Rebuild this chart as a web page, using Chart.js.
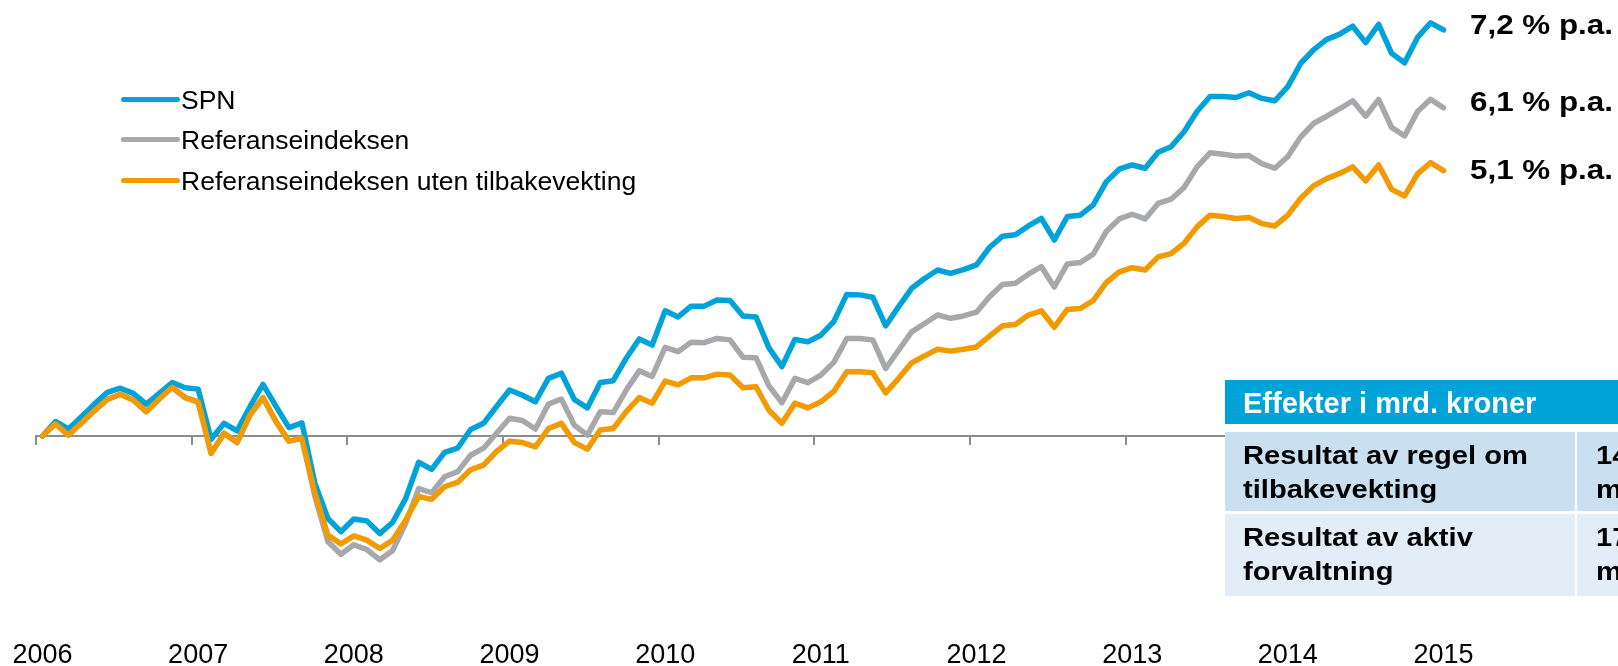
<!DOCTYPE html>
<html>
<head>
<meta charset="utf-8">
<script src="https://cdn.jsdelivr.net/npm/chart.js@4.4.1/dist/chart.umd.min.js"></script>
<style>
html,body{margin:0;padding:0;background:#fff;overflow:hidden;}
#wrap{position:relative;width:1618px;height:666px;overflow:hidden;font-family:"Liberation Sans",Arial,sans-serif;color:#000;}
#chart{position:absolute;left:0;top:0;}
.t{position:absolute;white-space:nowrap;line-height:1;}
.leg{font-size:26.5px;left:181px;}
.sw{position:absolute;left:121px;width:59px;height:5px;border-radius:3px;}
.pa{font-size:28px;font-weight:bold;left:1470px;transform:scaleX(1.12);transform-origin:0 0;}
.cell{position:absolute;}
.hdr{font-size:29px;font-weight:bold;color:#fff;}
.rt{position:absolute;white-space:nowrap;font-size:26px;font-weight:bold;line-height:34px;transform:scaleX(1.12);transform-origin:0 0;}
</style>
</head>
<body>
<div id="wrap">
  <canvas id="chart" width="1618" height="666"></canvas>
  <div id="overlay"></div>
</div>
<script>
// ---- data ----
const years = ['2006','2007','2008','2009','2010','2011','2012','2013','2014','2015'];
const seriesNames = ['SPN', 'Referanseindeksen', 'Referanseindeksen uten tilbakevekting'];
const annualReturns = ['7,2 % p.a.', '6,1 % p.a.', '5,1 % p.a.'];

// cumulative return (%) from Jan 2006, monthly
const spnValues = [0, 3.1, 1.5, 4.1, 6.8, 9.3, 10.2, 9.1, 6.8, 9.1, 11.4, 10.3, 10.0,
  -0.7, 2.7, 1.1, 6.3, 11.0, 6.3, 1.8, 2.8,
  -10.1, -17.6, -20.4, -17.7, -18.1, -20.8, -18.4, -13.3, -5.6, -7.1, -3.5, -2.6, 1.4, 2.7, 6.3, 9.8, 8.7,
  7.3, 12.3, 13.4, 7.8, 6.0, 11.4, 11.8, 16.6, 20.7, 19.4, 26.7, 25.4, 27.7, 27.7, 29.0, 28.9, 25.6, 25.4,
  18.8, 14.8, 20.6, 20.1, 21.5, 24.4, 30.2, 30.1, 29.6, 23.5, 27.6, 31.5, 33.6, 35.4, 34.7, 35.5, 36.5,
  40.2, 42.6, 42.9, 44.8, 46.4, 41.8, 46.8, 47.1, 49.3, 54.2, 56.9, 57.8, 57.1, 60.5, 61.7, 64.9, 69.2,
  72.4, 72.4, 72.2, 73.2, 72.0, 71.5, 74.5, 79.5, 82.4, 84.6, 85.7, 87.4, 83.9, 87.8, 81.6, 79.6, 85.0, 88.1, 86.6];

const refValues = [0, 2.6, 0.2, 2.8, 5.4, 7.8, 8.9, 7.7, 5.2, 7.9, 10.4, 8.2, 7.3,
  -3.7, 0.6, -1.4, 4.5, 8.2, 3.1, -1.1, -0.5,
  -12.9, -22.5, -25.2, -23.2, -24.2, -26.4, -24.4, -18.6, -11.2, -12.1, -8.7, -7.6, -4.1, -2.6, 0.6,
  3.8, 3.3, 1.5, 6.8, 7.9, 2.3, 0.2, 5.2, 5.0, 9.8, 13.9, 12.7, 18.9, 18.0, 20.0, 19.9, 20.8, 20.5, 16.8, 16.7,
  10.7, 7.1, 12.3, 11.4, 13.0, 15.7, 20.8, 20.8, 20.5, 14.4, 18.3, 22.2, 24.0, 25.8, 25.1, 25.6, 26.4,
  29.7, 32.3, 32.6, 34.5, 36.1, 31.8, 36.7, 37.0, 38.8, 43.6, 46.3, 47.3, 46.3, 49.6, 50.5, 53.0, 57.4,
  60.4, 60.1, 59.7, 59.8, 58.1, 57.1, 59.6, 63.8, 66.7, 68.2, 69.8, 71.5, 68.2, 71.8, 65.8, 64.0, 69.2, 71.8, 70.0];

const refUtenValues = [0, 2.6, 0.2, 2.8, 5.4, 7.8, 8.9, 7.7, 5.2, 7.9, 10.4, 8.2, 7.3,
  -3.7, 0.6, -1.4, 4.5, 8.2, 3.1, -1.1, -0.5,
  -12.2, -21.1, -23.0, -21.3, -22.2, -24.0, -22.2, -17.9, -12.9, -13.5, -10.8, -9.9, -7.2, -6.2, -3.3, -1.1, -1.4,
  -2.3, 1.6, 2.7, -1.4, -2.8, 1.3, 1.6, 5.2, 8.2, 7.0, 11.7, 10.9, 12.4, 12.4, 13.2, 13.0, 10.3, 10.5,
  5.5, 2.7, 7.0, 6.0, 7.3, 9.5, 13.7, 13.7, 13.5, 9.2, 12.3, 15.6, 17.1, 18.5, 18.1, 18.5, 19.0,
  21.3, 23.5, 23.8, 25.8, 26.7, 23.2, 27.0, 27.2, 28.9, 32.7, 35.0, 35.9, 35.4, 38.2, 38.9, 41.1, 44.6,
  47.1, 46.8, 46.4, 46.6, 45.3, 44.8, 47.1, 50.7, 53.4, 54.9, 56.0, 57.4, 54.4, 57.8, 52.6, 51.2, 55.9, 58.3, 56.6];

const tableHeader = 'Effekter i mrd. kroner';
const tableRows = [
  ['Resultat av regel om', 'tilbakevekting', '14', 'mrd.'],
  ['Resultat av aktiv', 'forvaltning', '17', 'mrd.']
];

// ---- styling ----
const colors = ['#00a3d9', '#a7a8ab', '#f29a00'];
const axisGray = '#8c8c8c';

// month categories
const categories = [];
for (let i = 0; i < spnValues.length; i++) {
  categories.push(years[0] * 1 + Math.floor(i / 12) + '-' + String(i % 12 + 1).padStart(2, '0'));
}

Chart.defaults.font.family = '"Liberation Sans", Arial, sans-serif';

new Chart(document.getElementById('chart'), {
  type: 'line',
  data: {
    labels: categories,
    datasets: [
      { label: seriesNames[0], data: spnValues, borderColor: colors[0], order: 1 },
      { label: seriesNames[1], data: refValues, borderColor: colors[1], order: 2 },
      { label: seriesNames[2], data: refUtenValues, borderColor: colors[2], order: 0 }
    ]
  },
  options: {
    responsive: false,
    animation: false,
    devicePixelRatio: 1,
    layout: { padding: { left: 36, right: 168, top: 14, bottom: 0 } },
    elements: {
      point: { radius: 0, hoverRadius: 0 },
      line: { borderWidth: 5.5, tension: 0, borderJoinStyle: 'round', borderCapStyle: 'round', fill: false }
    },
    plugins: { legend: { display: false }, tooltip: { enabled: false } },
    scales: {
      x: {
        type: 'category',
        position: 'bottom',
        offset: true,
        grid: { display: false, drawTicks: true, tickLength: 25 },
        border: { display: false },
        ticks: {
          autoSkip: false, maxRotation: 0, minRotation: 0, padding: 0,
          color: '#000', font: { size: 27 },
          callback: (v, i) => (i % 12 === 0 ? years[i / 12] : '')
        },
        afterFit: s => { s.height = 51.8; }
      },
      x0: {
        type: 'category',
        axis: 'x',
        position: { y: 0 },
        offset: true,
        grid: {
          display: true, drawOnChartArea: false, drawTicks: true, tickLength: 8, offset: true,
          color: c => (c.index !== undefined && c.index % 12 === 0 ? axisGray : 'rgba(0,0,0,0)'),
          tickColor: c => (c.index !== undefined && c.index % 12 === 0 ? axisGray : 'rgba(0,0,0,0)'),
          tickWidth: 2, lineWidth: 2
        },
        border: { display: true, color: axisGray, width: 2 },
        ticks: { display: false }
      },
      y: { display: false, min: -38, max: 90 }
    }
  }
});

// ---- overlay: legend, annual returns, table ----
const ov = document.getElementById('overlay');
function add(html) { ov.insertAdjacentHTML('beforeend', html); }

const legY = [99, 139.5, 180];
const legTop = [86.5, 127, 167.5];
seriesNames.forEach((n, i) => {
  add(`<div class="sw" style="top:${legY[i] - 2.5}px;background:${colors[i]}"></div>`);
  add(`<div class="t leg" style="top:${legTop[i]}px">${n}</div>`);
});

const paTop = [11.3, 88.3, 156.3];
annualReturns.forEach((r, i) => add(`<div class="t pa" style="top:${paTop[i]}px">${r}</div>`));

add(`<div class="cell" style="left:1225px;top:380px;width:393px;height:44px;background:#00a3d7"></div>`);
add(`<div class="t hdr" style="left:1243px;top:388.5px">${tableHeader}</div>`);
const rowTops = [432, 514], rowH = [79, 82], rowBg = ['#cadff0', '#e3edf8'];
tableRows.forEach((r, i) => {
  add(`<div class="cell" style="left:1225px;top:${rowTops[i]}px;width:350px;height:${rowH[i]}px;background:${rowBg[i]}"></div>`);
  add(`<div class="cell" style="left:1577px;top:${rowTops[i]}px;width:41px;height:${rowH[i]}px;background:${rowBg[i]}"></div>`);
  add(`<div class="rt" style="left:1243px;top:${rowTops[i] + 6}px">${r[0]}<br>${r[1]}</div>`);
  add(`<div class="rt" style="left:1596px;top:${rowTops[i] + 6}px">${r[2]}<br>${r[3]}</div>`);
});
</script>
</body>
</html>
